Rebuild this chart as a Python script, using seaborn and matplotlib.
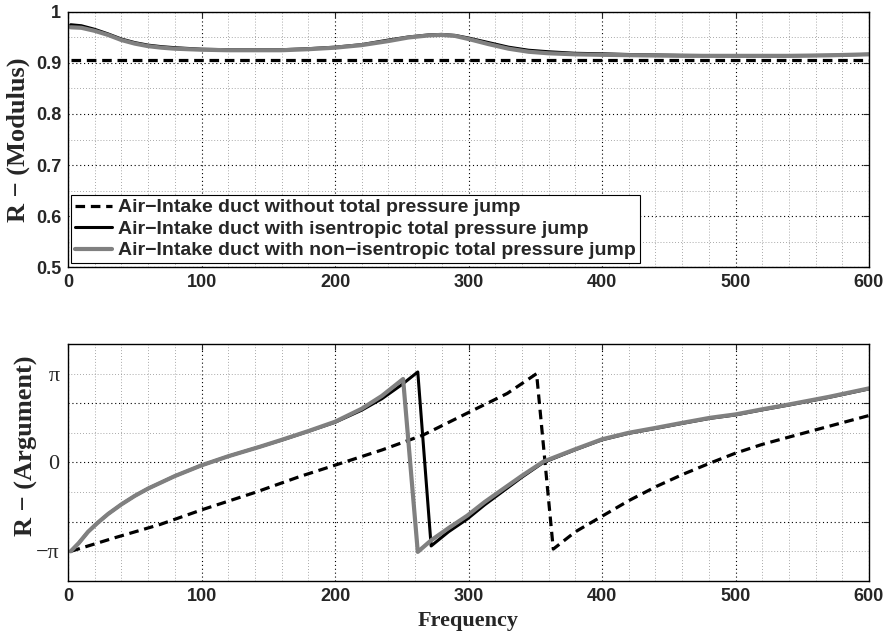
import numpy as np
import pandas as pd
import matplotlib

matplotlib.use("Agg")
import matplotlib.pyplot as plt
from matplotlib.ticker import MultipleLocator
import seaborn as sns


# modulus of R (top panel)
freq_mod = [2, 10, 20, 30, 40, 50, 60, 70, 80, 100, 120, 140, 160, 180, 200, 220, 240, 255,
            270, 280, 290, 300, 315, 330, 345, 360, 380, 400, 430, 460, 500, 540, 570, 600]
mod_no_jump = [0.905] * len(freq_mod)
mod_isentropic = [0.975, 0.973, 0.966, 0.957, 0.947, 0.940, 0.935, 0.932, 0.930, 0.927, 0.926,
                  0.926, 0.926, 0.928, 0.931, 0.936, 0.945, 0.951, 0.955, 0.956, 0.954, 0.949,
                  0.940, 0.931, 0.925, 0.922, 0.919, 0.918, 0.916, 0.915, 0.914, 0.914, 0.915, 0.917]
mod_non_isentropic = [0.970, 0.969, 0.963, 0.955, 0.945, 0.938, 0.933, 0.930, 0.928, 0.926, 0.925,
                      0.925, 0.925, 0.927, 0.930, 0.935, 0.943, 0.950, 0.954, 0.955, 0.953, 0.947,
                      0.937, 0.928, 0.922, 0.919, 0.917, 0.916, 0.915, 0.914, 0.914, 0.914, 0.915, 0.917]

# argument of R (bottom panel), wrapped to [-pi, pi]
freq_arg_dash = [2, 35, 69, 101, 140, 174, 201, 235, 266, 301, 329, 351,
                 363.5, 380, 400, 420, 441, 461, 481, 500, 520, 541, 570, 600]
arg_no_jump = [-3.14, -2.66, -2.19, -1.66, -1.06, -0.49, -0.08, 0.44, 0.97, 1.79, 2.44, 3.14,
               -3.06, -2.45, -1.90, -1.35, -0.84, -0.41, -0.02, 0.33, 0.64, 0.91, 1.28, 1.66]

freq_arg_isen = [2, 8, 15, 22, 30, 40, 50, 60, 80, 100, 120, 144, 160, 180, 200, 220, 235, 250,
                 262, 272, 285, 299, 312, 324, 340, 356, 380, 400, 420, 441, 460, 481, 500,
                 520, 540, 570, 600]
arg_isentropic = [-3.14, -2.85, -2.45, -2.14, -1.82, -1.48, -1.18, -0.92, -0.48, -0.10, 0.22,
                  0.56, 0.79, 1.10, 1.42, 1.85, 2.25, 2.75, 3.20, -2.95, -2.45, -2.00, -1.50,
                  -1.08, -0.52, 0.00, 0.45, 0.80, 1.03, 1.21, 1.38, 1.56, 1.68, 1.86, 2.03,
                  2.30, 2.60]

freq_arg_non = [2, 8, 15, 22, 30, 40, 50, 60, 80, 100, 120, 144, 160, 180, 200, 220, 235, 251,
                262, 272, 285, 299, 312, 324, 340, 356, 380, 400, 420, 441, 460, 481, 500,
                520, 540, 570, 600]
arg_non_isentropic = [-3.14, -2.85, -2.45, -2.14, -1.82, -1.48, -1.18, -0.92, -0.48, -0.10, 0.22,
                      0.56, 0.80, 1.11, 1.44, 1.90, 2.35, 2.95, -3.16, -2.75, -2.32, -1.88, -1.40,
                      -1.00, -0.47, 0.03, 0.47, 0.82, 1.05, 1.23, 1.40, 1.58, 1.70, 1.88, 2.05,
                      2.32, 2.62]

labels = [
    "Air\u2212Intake duct without total pressure jump",
    "Air\u2212Intake duct with isentropic total pressure jump",
    "Air\u2212Intake duct with non\u2212isentropic total pressure jump",
]

sns.set_style("white")
plt.rcParams["font.family"] = ["Liberation Sans", "DejaVu Sans"]
plt.rcParams["font.weight"] = "bold"

fig = plt.figure(figsize=(8.88, 6.37), dpi=100)
ax1 = fig.add_axes([0.0766, 0.5808, 0.902, 0.4004])
ax2 = fig.add_axes([0.0766, 0.0879, 0.902, 0.3721])

dash_style = dict(color="black", lw=2.3, linestyle=(0, (3, 1.8)))
black_style = dict(color="black", lw=2.2)
grey_style = dict(color="#808080", lw=3.0)

# top panel
sns.lineplot(x=freq_mod, y=mod_no_jump, ax=ax1, label=labels[0], sort=False, estimator=None, **dash_style)
sns.lineplot(x=freq_mod, y=mod_isentropic, ax=ax1, label=labels[1], sort=False, estimator=None, **black_style)
sns.lineplot(x=freq_mod, y=mod_non_isentropic, ax=ax1, label=labels[2], sort=False, estimator=None, **grey_style)

# bottom panel
sns.lineplot(x=freq_arg_dash, y=arg_no_jump, ax=ax2, sort=False, estimator=None, **dash_style)
sns.lineplot(x=freq_arg_isen, y=arg_isentropic, ax=ax2, sort=False, estimator=None, **black_style)
sns.lineplot(x=freq_arg_non, y=arg_non_isentropic, ax=ax2, sort=False, estimator=None, **grey_style)

ax1.set_xlim(0, 600)
ax1.set_ylim(0.5, 1.0)
ax1.xaxis.set_major_locator(MultipleLocator(100))
ax1.xaxis.set_minor_locator(MultipleLocator(20))
ax1.yaxis.set_major_locator(MultipleLocator(0.1))
ax1.yaxis.set_minor_locator(MultipleLocator(0.05))
ax1.set_yticks([0.5, 0.6, 0.7, 0.8, 0.9, 1.0], labels=["0.5", "0.6", "0.7", "0.8", "0.9", "1"])

lim = 4 * np.pi / 3
ax2.set_xlim(0, 600)
ax2.set_ylim(-lim, lim)
ax2.xaxis.set_major_locator(MultipleLocator(100))
ax2.xaxis.set_minor_locator(MultipleLocator(20))
ax2.set_yticks([-2 * np.pi / 3, 0, 2 * np.pi / 3], labels=["", "0", ""])
ax2.set_yticks([-np.pi, -np.pi / 3, np.pi / 3, np.pi], labels=["\u2212\u03c0", "", "", "\u03c0"], minor=True)

for ax in (ax1, ax2):
    ax.grid(which="major", color="black", lw=0.8, linestyle=(0, (1, 2.5)))
    ax.grid(which="minor", color="0.55", lw=0.6, linestyle=(0, (1, 2.5)))
    ax.set_axisbelow(True)
    for s in ax.spines.values():
        s.set_color("black")
        s.set_linewidth(1.0)
    ax.tick_params(which="both", direction="in", top=True, right=True, length=4, width=0.8,
                   labelsize=13, pad=5)
    ax.tick_params(which="minor", length=0)
    for t in ax.get_xticklabels():
        t.set_fontweight("bold")

for t in ax1.get_yticklabels():
    t.set_fontweight("bold")
for t in ax2.get_yticklabels(which="both"):
    t.set_fontfamily("Liberation Serif")
    t.set_fontweight("normal")
    t.set_fontsize(16)
ax2.tick_params(axis="y", which="both", pad=6)
ax2.tick_params(axis="y", which="minor", length=0)

ax1.set_ylabel("R \u2212 (Modulus)", fontfamily="Liberation Serif", fontweight="bold", fontsize=19)
ax1.yaxis.set_label_coords(-0.048, 0.5)
ax2.set_ylabel("R \u2212 (Argument)", fontfamily="Liberation Serif", fontweight="bold", fontsize=19)
ax2.yaxis.set_label_coords(-0.038, 0.57)
ax1.set_xlabel("")
ax2.set_xlabel("Frequency", labelpad=4, fontfamily="Liberation Serif", fontweight="bold", fontsize=16)

leg = ax1.legend(loc="lower left", bbox_to_anchor=(0.004, 0.015), frameon=True, fancybox=False,
                 framealpha=1, edgecolor="black", handlelength=1.9, handletextpad=0.3,
                 labelspacing=0.2, borderpad=0.2, borderaxespad=0,
                 prop=dict(family="Liberation Sans", weight="bold", size=14))
leg.get_frame().set_linewidth(0.8)

fig.savefig("out.png", dpi=100)
